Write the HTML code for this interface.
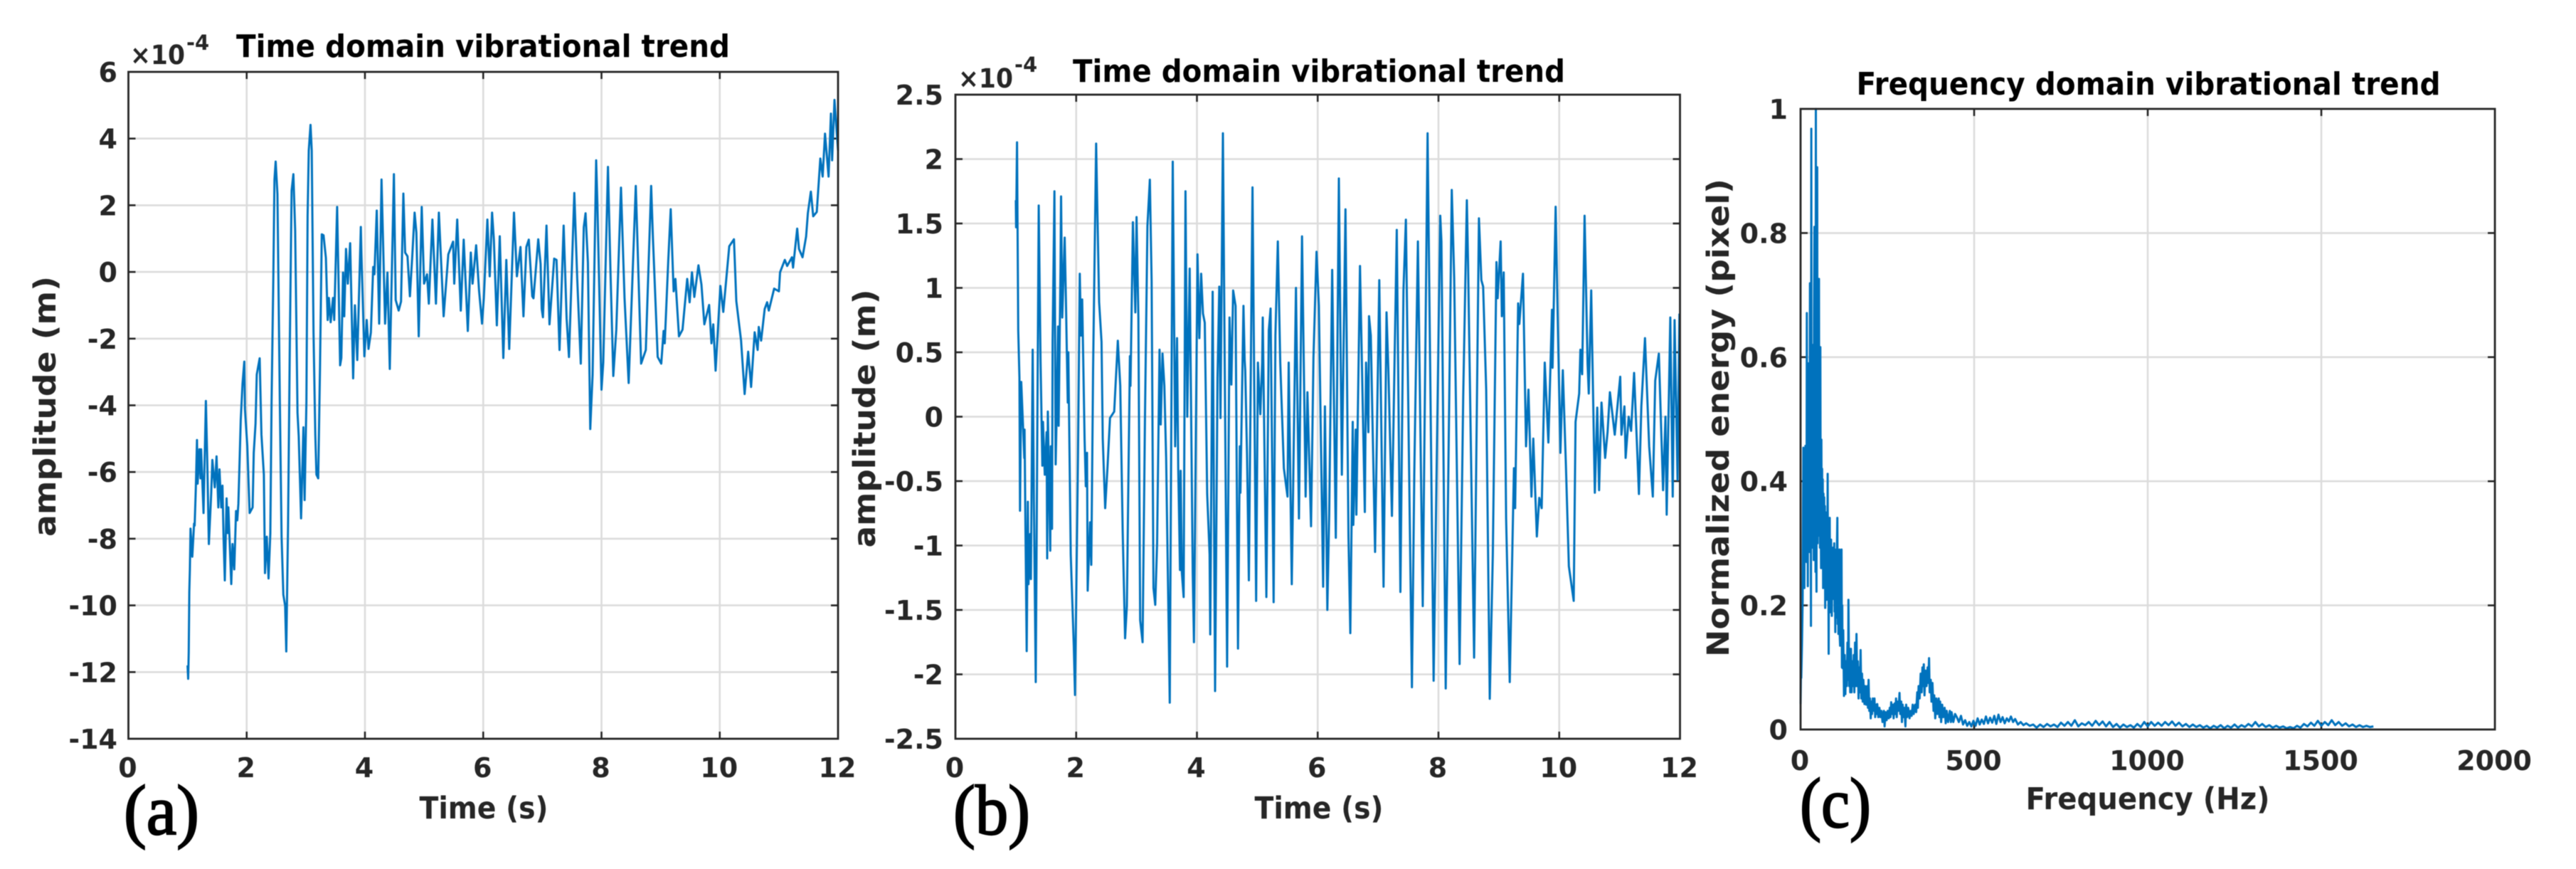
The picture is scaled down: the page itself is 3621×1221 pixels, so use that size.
<!DOCTYPE html>
<html lang="en">
<head>
<meta charset="utf-8">
<title>Vibrational trend charts</title>
<style>
html,body{margin:0;padding:0;background:#fff;width:3621px;height:1221px;overflow:hidden}
svg{display:block;font-family:"DejaVu Sans","Liberation Sans",sans-serif;filter:blur(0.6px)}
.title{font-weight:bold;font-size:44px;fill:#000;text-anchor:middle}
.lab{font-weight:bold;font-size:43px;fill:#262626;text-anchor:middle}
.tick{font-weight:bold;font-size:38px;fill:#262626}
.exp{font-weight:bold;font-size:37px;fill:#262626}
.sup{font-weight:bold;font-size:29px;fill:#262626}
.letter{font-family:"Liberation Serif","DejaVu Serif",serif;font-size:100px;fill:#000;stroke:#000;stroke-width:2.2px}
</style>
</head>
<body>
<svg id="fig" xmlns="http://www.w3.org/2000/svg" width="3621" height="1221" viewBox="0 0 3621 1221">
<rect x="0" y="0" width="3621" height="1221" fill="#fff"/>
<g id="panel-a"></g>
<g id="panel-b"></g>
<g id="panel-c"></g>

<text class="title" x="679" y="80" textLength="694" lengthAdjust="spacingAndGlyphs">Time domain vibrational trend</text>
<text class="exp" x="183" y="90" textLength="77" lengthAdjust="spacingAndGlyphs">×10</text>
<text class="sup" x="262" y="70">-4</text>
<text class="lab" x="680" y="1150" textLength="181" lengthAdjust="spacingAndGlyphs">Time (s)</text>
<text class="lab" transform="translate(78,571) rotate(-90)" textLength="366" lengthAdjust="spacingAndGlyphs">amplitude (m)</text>
<text class="letter" x="174" y="1172" textLength="106" lengthAdjust="spacingAndGlyphs">(a)</text>

<text class="title" x="1854" y="115" textLength="692" lengthAdjust="spacingAndGlyphs">Time domain vibrational trend</text>
<text class="exp" x="1347" y="123" textLength="77" lengthAdjust="spacingAndGlyphs">×10</text>
<text class="sup" x="1426" y="101">-4</text>
<text class="lab" x="1854" y="1150" textLength="181" lengthAdjust="spacingAndGlyphs">Time (s)</text>
<text class="lab" transform="translate(1230,588) rotate(-90)" textLength="363" lengthAdjust="spacingAndGlyphs">amplitude (m)</text>
<text class="letter" x="1340" y="1172" textLength="108" lengthAdjust="spacingAndGlyphs">(b)</text>

<text class="title" x="3020" y="133" textLength="821" lengthAdjust="spacingAndGlyphs">Frequency domain vibrational trend</text>
<text class="lab" x="3019" y="1137" textLength="343" lengthAdjust="spacingAndGlyphs">Frequency (Hz)</text>
<text class="lab" transform="translate(2430,587) rotate(-90)" textLength="672" lengthAdjust="spacingAndGlyphs">Normalized energy (pixel)</text>
<text class="letter" x="2530" y="1162" textLength="100" lengthAdjust="spacingAndGlyphs">(c)</text>
</svg>

<script>
const xTicksA = [0,2,4,6,8,10,12];
const yTicksA = [6,4,2,0,-2,-4,-6,-8,-10,-12,-14];
const yTickLabelsA = ["6","4","2","0","-2","-4","-6","-8","-10","-12","-14"];
const xTicksB = [0,2,4,6,8,10,12];
const yTicksB = [2.5,2,1.5,1,0.5,0,-0.5,-1,-1.5,-2,-2.5];
const yTickLabelsB = ["2.5","2","1.5","1","0.5","0","-0.5","-1","-1.5","-2","-2.5"];
const xTicksC = [0,500,1000,1500,2000];
const yTicksC = [1,0.8,0.6,0.4,0.2,0];
const yTickLabelsC = ["1","0.8","0.6","0.4","0.2","0"];

const timeA = [1,1.01,1.02,1.03,1.04,1.05,1.08,1.11,1.12,1.14,1.16,1.17,1.2,1.22,1.23,1.27,1.31,1.33,1.36,1.4,1.42,1.46,1.49,1.52,1.54,1.57,1.59,1.61,1.63,1.66,1.68,1.69,1.74,1.76,1.79,1.82,1.84,1.86,1.9,1.93,1.96,1.97,2.01,2.05,2.1,2.12,2.15,2.17,2.22,2.25,2.29,2.31,2.34,2.37,2.4,2.42,2.45,2.47,2.49,2.52,2.56,2.59,2.62,2.65,2.67,2.7,2.73,2.76,2.79,2.82,2.86,2.88,2.92,2.96,2.98,3.01,3.03,3.05,3.08,3.1,3.13,3.16,3.18,3.21,3.24,3.27,3.3,3.34,3.37,3.39,3.42,3.46,3.48,3.53,3.58,3.6,3.63,3.65,3.68,3.71,3.75,3.8,3.83,3.87,3.93,3.94,3.99,4.03,4.06,4.1,4.14,4.16,4.2,4.24,4.28,4.34,4.38,4.42,4.48,4.49,4.52,4.57,4.61,4.65,4.68,4.72,4.76,4.8,4.84,4.87,4.91,4.96,5,5.05,5.08,5.14,5.2,5.25,5.33,5.41,5.49,5.51,5.56,5.62,5.67,5.74,5.79,5.82,5.88,5.93,5.98,6.01,6.07,6.11,6.15,6.18,6.23,6.28,6.34,6.39,6.44,6.52,6.57,6.63,6.68,6.73,6.77,6.83,6.85,6.93,6.97,6.99,7.01,7.07,7.12,7.2,7.24,7.29,7.36,7.41,7.45,7.54,7.59,7.65,7.7,7.73,7.77,7.81,7.85,7.91,7.93,8,8.03,8.11,8.15,8.2,8.25,8.33,8.39,8.46,8.58,8.67,8.75,8.84,8.87,8.95,9.01,9.05,9.07,9.13,9.17,9.22,9.25,9.31,9.37,9.45,9.49,9.53,9.57,9.64,9.69,9.74,9.82,9.86,9.89,9.93,10.01,10.06,10.16,10.24,10.28,10.36,10.42,10.48,10.53,10.59,10.64,10.66,10.7,10.76,10.8,10.83,10.92,11,11.02,11.1,11.14,11.22,11.24,11.31,11.34,11.4,11.46,11.49,11.54,11.58,11.64,11.7,11.74,11.78,11.84,11.88,11.9,11.94,12];
const ampA = [-11.8,-12.2,-11.4,-9.6,-8.92,-7.7,-8.54,-7.55,-7.61,-6.46,-5.04,-6.35,-5.32,-6.19,-5.32,-7.23,-3.87,-5.42,-8.16,-6.63,-5.64,-6.46,-5.53,-7.06,-5.92,-7.06,-6.41,-7.99,-9.25,-6.79,-7.83,-7.06,-9.36,-8.16,-8.92,-7.17,-7.45,-6.95,-4.44,-3.35,-2.69,-4.11,-5.21,-7.23,-7.06,-5.42,-4.55,-3.08,-2.59,-4.88,-6.08,-9.03,-7.94,-9.19,-7.83,-3.95,-0.18,2.77,3.31,2.33,-3.79,-7.94,-9.68,-10.01,-11.38,-7.61,-2.15,2.44,2.93,1.24,-4.22,-4.93,-7.39,-4.66,-6.84,-3.9,1.68,3.64,4.41,3.64,-1.82,-4.88,-6.08,-6.19,-2.91,1.13,1.1,0.42,-1.44,-0.78,-1.51,-0.78,-1.44,1.95,-2.8,-2.58,-0.02,-1.33,0.69,-0.35,0.86,-3.19,-1,-2.64,1.35,0.58,-2.53,-1.44,-2.31,-1.82,0.15,-0.07,1.84,-1.55,2.77,-1.55,-0.02,-2.91,2.11,2.93,-0.84,-1.16,-0.89,2.35,0.58,0.47,-0.73,0.47,1.78,1.18,-1.93,1.95,-0.35,-0.07,-0.95,1.57,-0.95,1.78,-1.33,0.53,0.91,-0.35,1.57,-1.16,0.97,-1.77,0.58,-0.35,0.8,-0.56,-1.55,-0.78,1.57,-0.13,1.78,0.97,-1.6,1.07,-2.58,0.36,-2.31,1.78,-0.13,0.75,-1.33,0.75,0.97,-0.73,-0.79,0.98,0.24,-1.11,-1.36,1.39,-1.57,0.4,0.36,-2.34,1.39,-1.4,-2.55,2.37,-0.21,-2.75,1.35,1.76,0.28,-4.71,-3.08,3.35,2.08,-3.53,-2.71,3.15,0.12,-3.12,-1.73,2.53,-0.79,-3.33,2.58,-2.75,-2.34,2.58,1.02,-2.55,-2.75,-1.77,-2.14,0.36,1.88,-0.58,-0.21,-1.93,-1.73,-0.21,-0.91,-0.01,-0.75,0.2,-0.38,-1.57,-0.99,-2.14,-1.57,-2.96,-0.42,-1.2,0.77,0.98,-0.87,-2.06,-3.66,-2.39,-3.45,-1.81,-2.34,-1.65,-2.06,-1.11,-0.91,-1.16,-0.5,-0.58,-0.01,0.36,0.18,0.44,0.13,1.3,0.69,0.44,1.06,1.76,2.41,1.67,1.8,3.4,2.86,4.15,2.86,4.75,3.35,5.16,3.64];

const timeB = [1,1.005,1.02,1.04,1.06,1.07,1.09,1.115,1.14,1.145,1.16,1.18,1.2,1.21,1.24,1.25,1.28,1.3,1.33,1.38,1.41,1.44,1.45,1.48,1.51,1.52,1.53,1.57,1.58,1.6,1.61,1.64,1.66,1.68,1.7,1.71,1.74,1.75,1.77,1.81,1.83,1.86,1.87,1.91,1.96,1.98,2.03,2.06,2.08,2.1,2.14,2.16,2.18,2.19,2.23,2.25,2.28,2.33,2.35,2.38,2.42,2.44,2.48,2.52,2.56,2.63,2.69,2.73,2.77,2.81,2.84,2.89,2.9,2.94,2.98,3,3.03,3.06,3.1,3.14,3.18,3.22,3.25,3.28,3.31,3.34,3.38,3.4,3.43,3.46,3.49,3.55,3.6,3.64,3.67,3.69,3.72,3.73,3.75,3.78,3.81,3.84,3.88,3.93,3.95,4.01,4.04,4.07,4.1,4.13,4.17,4.21,4.22,4.26,4.3,4.34,4.37,4.39,4.43,4.5,4.54,4.57,4.6,4.64,4.68,4.71,4.72,4.77,4.79,4.8,4.83,4.86,4.92,4.98,5.01,5.05,5.08,5.09,5.15,5.19,5.22,5.27,5.3,5.34,5.38,5.44,5.5,5.52,5.57,5.64,5.69,5.74,5.8,5.83,5.89,5.93,5.98,6.02,6.09,6.12,6.16,6.19,6.24,6.3,6.35,6.4,6.46,6.51,6.54,6.58,6.59,6.63,6.64,6.7,6.78,6.8,6.84,6.85,6.88,6.95,7.02,7.09,7.14,7.17,7.23,7.31,7.37,7.42,7.46,7.56,7.6,7.66,7.74,7.82,7.92,8.03,8.05,8.12,8.22,8.26,8.35,8.41,8.47,8.49,8.59,8.67,8.71,8.74,8.79,8.85,8.9,8.96,8.98,9.03,9.05,9.08,9.12,9.18,9.25,9.27,9.32,9.34,9.4,9.45,9.49,9.54,9.57,9.63,9.67,9.71,9.76,9.82,9.88,9.89,9.94,9.97,10.02,10.06,10.11,10.16,10.24,10.27,10.33,10.35,10.38,10.42,10.47,10.49,10.53,10.59,10.63,10.66,10.7,10.76,10.8,10.84,10.92,11.01,11.03,11.08,11.1,11.15,11.19,11.24,11.32,11.36,11.42,11.49,11.55,11.59,11.65,11.72,11.76,11.78,11.84,11.88,11.91,11.96,11.99];
const ampB = [1.68,1.47,2.13,0.67,0.3,-0.73,0.27,-0.01,-0.32,-0.1,-0.9,-1.82,-0.66,-1.3,-0.91,-1.26,0.52,-0.65,-2.06,1.64,0.42,-0.38,-0.04,-0.45,-0.12,-1.1,0.04,-1.04,-0.23,-0.87,0.59,1.75,-0.37,0.1,0.7,-0.07,1.15,1.71,0.77,1.39,0.91,0.11,0.5,-1.07,-1.78,-2.16,-0.31,1.11,0.63,0.91,-0.18,-0.54,-0.28,-1.35,-0.82,-1.15,0.36,2.12,1.61,0.89,0.58,-0.17,-0.71,-0.38,-0.01,0.04,0.59,0.24,-0.88,-1.72,-1.47,0.47,0.24,1.51,0.81,1.55,0.77,-1.58,-1.75,0.02,1.48,1.84,1.05,-1.33,-1.46,-0.98,0.52,-0.06,0.49,0.24,-0.32,-2.22,1.98,-0.23,0.61,-0.4,-1.19,-0.42,-1.21,-1.4,1.75,0,1.15,-1.22,-1.75,1.26,0.61,1.11,0.8,0.73,-0.6,-1.07,-1.69,0.97,-2.13,0.3,1.01,-0.01,2.2,-1.94,0.77,0.25,0.98,0.86,-1.8,-0.23,-0.59,0.86,0.44,0.36,-0.29,-1.27,1.78,-1.43,0.42,0.02,0.42,0.77,-1.4,0.67,0.84,-1.44,0.63,1.36,0.42,-0.4,-0.62,0.42,-1.3,1,-0.79,1.4,-0.62,0.19,-0.85,0.46,1.28,0.86,-1.32,0.08,-1.5,-0.76,1.14,-0.94,1.85,-0.45,1.61,-0.93,-1.68,-0.04,-0.84,-0.1,-0.76,1.17,-0.74,0.42,-0.12,0.78,0.63,-1.05,1.06,-1.32,0.81,0.36,-0.77,1.45,-1.36,0.98,1.53,-2.1,-0.45,1.36,-1.47,2.2,-2.05,1.56,1.36,-2.11,1.76,1.08,-1.92,0.16,1.68,1.2,-1.87,1.54,1.06,1.01,0.21,-2.19,-1.07,1.2,0.92,1.36,0.78,1.12,-0.79,-2.06,-0.4,-0.71,0.88,0.72,1.11,-0.23,0.21,-0.62,-0.17,-0.93,-0.63,-0.71,0.42,-0.2,0.83,0.38,1.63,0.89,-0.28,0.36,-0.37,-1.16,-1.43,-0.04,0.18,0.52,0.33,1.56,0.41,0.18,0.98,-0.59,0.07,-0.57,0.11,-0.32,-0.12,0.19,-0.14,0.31,-0.14,0.08,-0.32,0,-0.11,0.34,-0.6,0.08,0.61,-0.23,-0.62,0.28,0.49,-0.57,0,-0.76,0.77,-0.62,0.75,-0.49,0.8];

const freqC = [0,1,2,4,6,8,9,10,11,12,13,14,15,16,17,18,19,20,21,22,23,24,25,26,27,28,29,30,31,32,33,34,35,36,37,38,39,40,41,42,43,44,45,46,47,48,49,50,51,52,53,54,55,56,57,58,59,60,61,62,63,64,65,66,67,68,69,70,71,72,73,74,75,76,77,78,79,80,81,82,83,84,85,86,87,88,89,90,91,92,93,94,95,96,97,98,99,100,101,102,103,104,105,106,107,108,109,110,111,112,113,114,115,116,117,118,119,120,121,123,125,127,129,131,133,135,137,138,140,141,143,145,147,149,151,153,155,157,159,161,163,165,167,169,171,173,175,177,179,181,184,186,189,192,194,196,198,200,202,204,206,208,211,213,215,217,219,221,224,227,230,233,236,240,242,245,248,251,254,257,259,261,264,266,268,271,273,275,277,279,282,285,287,290,292,294,296,299,302,304,307,310,314,317,320,323,326,330,333,336,338,340,343,346,349,351,353,355,357,360,363,366,368,370,372,375,377,380,383,385,388,391,394,398,400,402,405,408,411,415,418,421,425,430,433,435,440,445,450,456,462,468,474,480,486,492,498,504,510,516,522,528,534,540,546,552,558,564,570,576,582,588,594,600,606,612,618,626,634,642,650,660,670,680,690,700,710,720,730,740,750,760,770,780,790,800,810,820,830,840,850,860,870,880,890,900,910,920,930,940,950,960,970,980,990,1000,1010,1020,1030,1040,1050,1060,1070,1080,1090,1100,1110,1120,1130,1140,1150,1160,1170,1180,1190,1200,1210,1220,1230,1240,1250,1260,1270,1280,1290,1300,1310,1320,1330,1340,1350,1360,1370,1380,1390,1400,1410,1420,1430,1440,1450,1460,1470,1480,1490,1500,1510,1520,1530,1540,1550,1560,1570,1580,1590,1600,1610,1620,1630,1640,1650];
const energyC = [0.041,0.086,0.083,0.138,0.209,0.454,0.25,0.38,0.228,0.42,0.3,0.457,0.29,0.44,0.27,0.671,0.3,0.46,0.231,0.5,0.59,0.3,0.5,0.286,0.719,0.32,0.55,0.167,0.968,0.3,0.58,0.293,0.6,0.33,0.62,0.273,0.66,0.81,0.3,0.65,0.254,1,0.3,0.222,0.75,0.906,0.3,0.6,0.312,0.62,0.726,0.33,0.55,0.293,0.616,0.35,0.26,0.467,0.3,0.42,0.26,0.403,0.228,0.38,0.25,0.374,0.23,0.36,0.196,0.35,0.23,0.34,0.209,0.33,0.25,0.412,0.22,0.3,0.122,0.32,0.2,0.341,0.189,0.3,0.2,0.306,0.21,0.183,0.29,0.21,0.293,0.22,0.27,0.248,0.3,0.19,0.29,0.157,0.27,0.18,0.29,0.2,0.3,0.341,0.17,0.28,0.154,0.27,0.16,0.29,0.15,0.135,0.26,0.14,0.28,0.29,0.1,0.2,0.099,0.16,0.054,0.12,0.057,0.11,0.07,0.14,0.08,0.209,0.07,0.13,0.06,0.13,0.06,0.11,0.07,0.12,0.06,0.14,0.07,0.154,0.07,0.11,0.05,0.1,0.06,0.128,0.05,0.09,0.045,0.08,0.041,0.07,0.04,0.07,0.035,0.08,0.03,0.05,0.018,0.045,0.025,0.05,0.03,0.05,0.02,0.04,0.025,0.041,0.02,0.035,0.02,0.03,0.012,0.03,0.005,0.028,0.015,0.03,0.018,0.035,0.02,0.044,0.025,0.04,0.018,0.042,0.025,0.05,0.02,0.045,0.03,0.059,0.025,0.045,0.012,0.04,0.02,0.035,0.005,0.04,0.02,0.035,0.018,0.03,0.022,0.04,0.025,0.04,0.028,0.06,0.035,0.07,0.05,0.09,0.06,0.1,0.07,0.105,0.055,0.095,0.07,0.1,0.075,0.115,0.06,0.08,0.045,0.075,0.03,0.055,0.018,0.05,0.025,0.05,0.02,0.045,0.012,0.04,0.02,0.035,0.01,0.03,0.012,0.03,0.012,0.028,0.012,0.025,0.02,0.012,0.022,0.008,0.015,0.006,0.012,0.005,0.014,0.006,0.018,0.008,0.016,0.009,0.021,0.01,0.019,0.011,0.022,0.009,0.024,0.012,0.02,0.01,0.018,0.013,0.021,0.012,0.017,0.008,0.012,0.007,0.01,0.006,0.008,0.003,0.008,0.004,0.009,0.005,0.008,0.004,0.011,0.006,0.012,0.006,0.015,0.005,0.01,0.007,0.012,0.006,0.014,0.007,0.013,0.005,0.012,0.004,0.009,0.003,0.008,0.004,0.007,0.003,0.009,0.004,0.012,0.005,0.012,0.006,0.011,0.006,0.012,0.007,0.013,0.006,0.011,0.005,0.009,0.004,0.008,0.004,0.007,0.003,0.006,0.002,0.006,0.003,0.007,0.002,0.006,0.003,0.008,0.003,0.007,0.004,0.009,0.005,0.012,0.005,0.009,0.004,0.007,0.003,0.006,0.003,0.005,0.002,0.004,0.002,0.006,0.003,0.009,0.005,0.011,0.006,0.014,0.006,0.012,0.007,0.015,0.007,0.012,0.006,0.01,0.005,0.008,0.004,0.007,0.004,0.006,0.004,0.005];

function makeScale(d0, d1, p0, p1) {
  return function (v) { return p0 + (v - d0) * (p1 - p0) / (d1 - d0); };
}

function svgEl(tag, parent, attrs) {
  const el = document.createElementNS('http://www.w3.org/2000/svg', tag);
  for (const k in attrs) el.setAttribute(k, attrs[k]);
  parent.appendChild(el);
  return el;
}

function drawPanel(cfg) {
  const g = document.getElementById(cfg.id);
  const sx = makeScale(cfg.xDomain[0], cfg.xDomain[1], cfg.left, cfg.right);
  const sy = makeScale(cfg.yDomain[0], cfg.yDomain[1], cfg.bottom, cfg.top);

  cfg.xTicks.forEach(function (v, i) {
    const x = sx(v);
    if (v !== cfg.xDomain[0] && v !== cfg.xDomain[1]) {
      const grid = svgEl('line', g, {x1: x, x2: x, y1: cfg.top, y2: cfg.bottom, stroke: '#dcdcdc', 'stroke-width': 2.6});
      
      
      const tickB = svgEl('line', g, {x1: x, x2: x, y1: cfg.bottom, y2: cfg.bottom - 10, stroke: '#262626', 'stroke-width': 2.6});
      
      
      const tickT = svgEl('line', g, {x1: x, x2: x, y1: cfg.top, y2: cfg.top + 10, stroke: '#262626', 'stroke-width': 2.6});
      
      
    }
    const label = svgEl('text', g, {x: x - 1, y: cfg.xLabelY, class: 'tick', 'text-anchor': 'middle'});
    
    
    label.textContent = String(cfg.xTicks[i]);
  });

  cfg.yTicks.forEach(function (v, i) {
    const y = sy(v);
    if (v !== cfg.yDomain[0] && v !== cfg.yDomain[1]) {
      const grid = svgEl('line', g, {x1: cfg.left, x2: cfg.right, y1: y, y2: y, stroke: '#dcdcdc', 'stroke-width': 2.6});
      
      
      const tickL = svgEl('line', g, {x1: cfg.left, x2: cfg.left + 10, y1: y, y2: y, stroke: '#262626', 'stroke-width': 2.6});
      
      
      const tickR = svgEl('line', g, {x1: cfg.right, x2: cfg.right - 10, y1: y, y2: y, stroke: '#262626', 'stroke-width': 2.6});
      
      
    }
    const label = svgEl('text', g, {x: cfg.yLabelX, y: y + 14, class: 'tick', 'text-anchor': 'end'});
    
    
    label.textContent = cfg.yLabels[i];
  });

  let d = '';
  const n = Math.min(cfg.xs.length, cfg.ys.length);
  for (let i = 0; i < n; i++) {
    d += (i ? 'L' : 'M') + sx(cfg.xs[i]).toFixed(1) + ' ' + sy(cfg.ys[i]).toFixed(1);
  }
  const line = svgEl('path', g, {d: d, fill: 'none', stroke: '#0072bd', 'stroke-width': 3, 'stroke-linejoin': 'round'});
  
  

  const box = svgEl('rect', g, {x: cfg.left, y: cfg.top, width: cfg.right - cfg.left, height: cfg.bottom - cfg.top, fill: 'none', stroke: '#262626', 'stroke-width': 2.8});
  
  
}

drawPanel({id: 'panel-a', lineName: 'amplitude-trace-a', left: 180.5, right: 1178, top: 101, bottom: 1038, xLabelY: 1092, yLabelX: 165, xDomain: [0, 12], yDomain: [-14, 6], xTicks: xTicksA, yTicks: yTicksA, yLabels: yTickLabelsA, xs: timeA, ys: ampA});
drawPanel({id: 'panel-b', lineName: 'amplitude-trace-b', left: 1343, right: 2361.5, top: 133, bottom: 1038, xLabelY: 1092, yLabelX: 1326, xDomain: [0, 12], yDomain: [-2.5, 2.5], xTicks: xTicksB, yTicks: yTicksB, yLabels: yTickLabelsB, xs: timeB, ys: ampB});
drawPanel({id: 'panel-c', lineName: 'energy-spectrum-trace', left: 2531, right: 3507, top: 153, bottom: 1025, xLabelY: 1082, yLabelX: 2513, xDomain: [0, 2000], yDomain: [0, 1], xTicks: xTicksC, yTicks: yTicksC, yLabels: yTickLabelsC, xs: freqC, ys: energyC});
</script>
</body>
</html>
